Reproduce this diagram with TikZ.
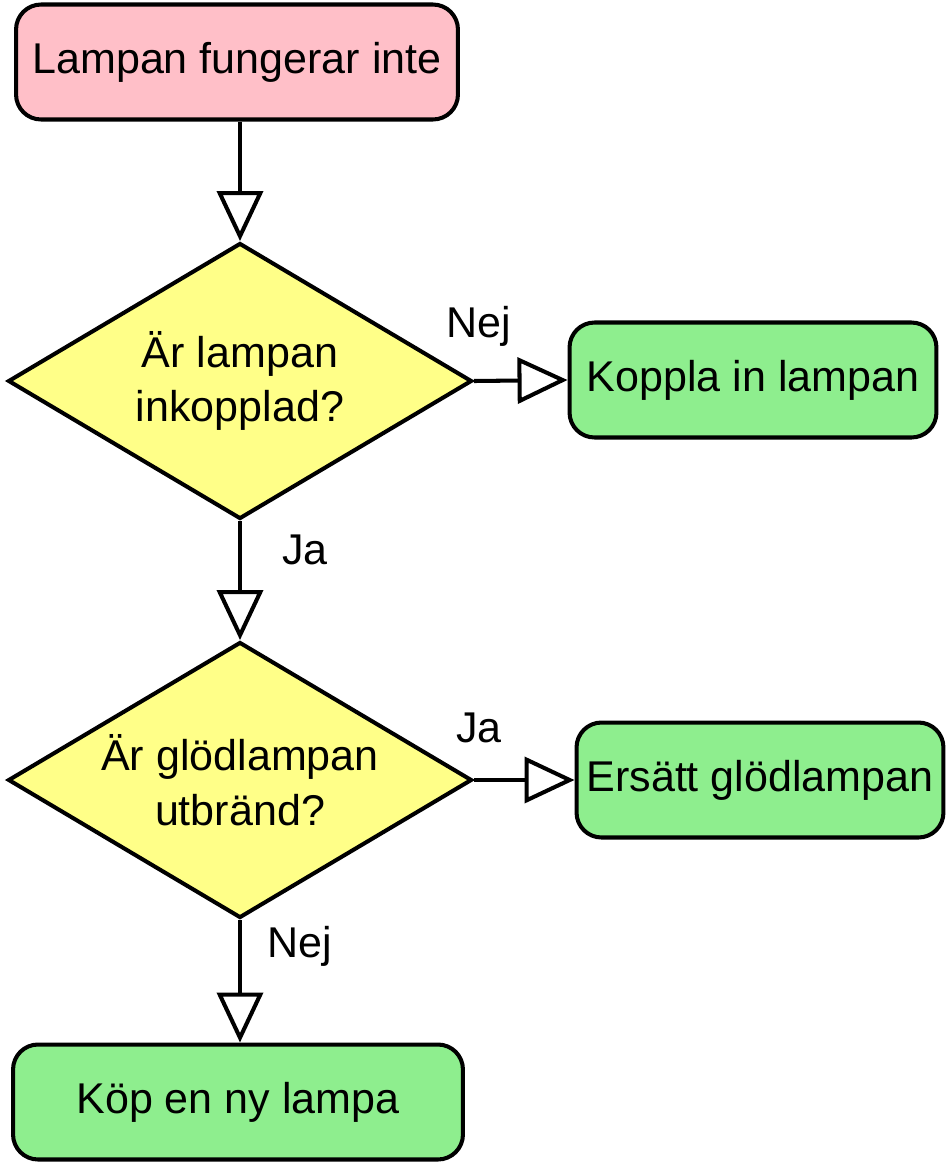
\documentclass[tikz,border=0pt]{standalone}
\usepackage{fontspec}
\setmainfont{Liberation Sans}
\usetikzlibrary{shapes.geometric,arrows.meta}
\definecolor{startpink}{HTML}{FFBFC8}
\definecolor{askyellow}{HTML}{FFFF88}
\definecolor{dogreen}{HTML}{8EEE8E}
\tikzset{
  line/.style = {draw, line width=2.3pt, -{Triangle[open, length=1cm, width=0.92cm, line width=2.3pt]}},
  box/.style = {rectangle, rounded corners=0.5cm, draw, line width=2.3pt, fill=dogreen, minimum height=2.3cm, inner sep=0pt, font=\fontsize{24.5}{29}\selectfont},
  ask/.style = {diamond, draw, line width=2.3pt, fill=askyellow, minimum width=9.28cm, minimum height=5.52cm, aspect=1.68, inner sep=0pt, align=center, font=\fontsize{24.5}{31}\selectfont},
  lbl/.style = {font=\fontsize{24.5}{29}\selectfont}
}
\begin{document}
\begin{tikzpicture}[x=0.02cm, y=-0.02cm]
	\useasboundingbox (0,0) rectangle (948,1164);

	\node [box, fill=startpink, minimum width=8.84cm] (start) at (237,62) {Lampan fungerar inte};
	\node [ask] (plugged) at (240,381) {Är lampan\\inkopplad?};
	\node [box, minimum width=7.34cm] (plugin) at (753,380) {Koppla in lampan};
	\node [ask] (burnt) at (240,780) {Är glödlampan\\utbränd?};
	\node [box, minimum width=7.34cm] (replace) at (760,780) {Ersätt glödlampan};
	\node [box, minimum width=9cm] (buy) at (238,1102) {Köp en ny lampa};

	\path [line] (plugged.north |- start.south) -- (plugged.north);
	\path [line] (plugged.east) -- (plugin.west);
	\path [line] (plugged.south) -- (burnt.north);
	\path [line] (burnt.east) -- (replace.west);
	\path [line] (burnt.south) -- (burnt.south |- buy.north);

	\node [lbl] (nej1) at (479,326) {Nej};
	\node [lbl] (ja1) at (305,550) {Ja};
	\node [lbl] (ja2) at (479,728) {Ja};
	\node [lbl] (nej2) at (300,946) {Nej};
\end{tikzpicture}
\end{document}
